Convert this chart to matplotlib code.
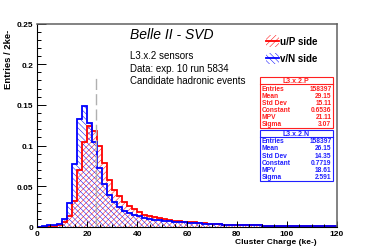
import matplotlib
matplotlib.use("Agg")
import matplotlib.pyplot as plt
import numpy as np
from matplotlib.patches import Rectangle
from matplotlib.lines import Line2D

plt.rcParams['font.family'] = ['Liberation Sans', 'DejaVu Sans']
plt.rcParams['hatch.linewidth'] = 0.35

# 2 ke- bins from 0 to 120
edges = np.arange(0, 122, 2)

# u/P side (red)
u_side = [0.0002, 0.0004, 0.0006, 0.001, 0.002, 0.006, 0.014, 0.032, 0.070, 0.104,
          0.124, 0.118, 0.100, 0.078, 0.058, 0.046, 0.038, 0.031, 0.026, 0.022,
          0.018, 0.015, 0.013, 0.012, 0.0105, 0.0095, 0.0085, 0.0078, 0.0072, 0.0066,
          0.0060, 0.0055, 0.0050, 0.0045, 0.0040, 0.0035, 0.0031, 0.0028, 0.0026, 0.0024,
          0.0022, 0.0021, 0.0020, 0.0019, 0.0018, 0.0017, 0.0016, 0.0016, 0.0015, 0.0015,
          0.0014, 0.0014, 0.0013, 0.0013, 0.0012, 0.0012, 0.0011, 0.0011, 0.0010, 0.0010]

# v/N side (blue)
v_side = [0.0005, 0.001, 0.0018, 0.0025, 0.0035, 0.010, 0.029, 0.077, 0.133, 0.149,
          0.128, 0.105, 0.072, 0.053, 0.039, 0.031, 0.025, 0.020, 0.017, 0.015,
          0.013, 0.011, 0.010, 0.0090, 0.0082, 0.0075, 0.0070, 0.0065, 0.0060, 0.0056,
          0.0052, 0.0048, 0.0044, 0.0040, 0.0037, 0.0034, 0.0031, 0.0029, 0.0027, 0.0025,
          0.0023, 0.0021, 0.0020, 0.0019, 0.0018, 0.0017, 0.0016, 0.0015, 0.0015, 0.0014,
          0.0014, 0.0013, 0.0013, 0.0012, 0.0012, 0.0011, 0.0011, 0.0010, 0.0010, 0.0010]

ref_line_x = 23.6
ref_line_top = 0.187

yticks = [0, 0.05, 0.1, 0.15, 0.2, 0.25]
yticklabels = ['0', '0.05', '0.1', '0.15', '0.2', '0.25']
xticks = [0, 20, 40, 60, 80, 100, 120]

info_lines = ['L3.x.2 sensors', 'Data: exp. 10 run 5834', 'Candidate hadronic events']

stat_names = ['Entries', 'Mean', 'Std Dev', 'Constant', 'MPV', 'Sigma']
stats_p = ['158397', '29.15', '15.11', '0.6536', '21.11', '3.07']
stats_n = ['158397', '26.15', '14.35', '0.7719', '18.61', '2.591']

RED = '#ff0000'
BLUE = '#0000ff'
HATCH_P = '//////'
HATCH_N = '\\\\\\\\\\\\'

fig = plt.figure(figsize=(3.74, 2.53), dpi=100)
ax = fig.add_axes([0.1, 0.099, 0.8, 0.804])

# hatched fills
ax.stairs(u_side, edges, fill=True, facecolor='none', edgecolor=RED,
          hatch=HATCH_P, linewidth=0)
ax.stairs(v_side, edges, fill=True, facecolor='none', edgecolor=BLUE,
          hatch=HATCH_N, linewidth=0)
# outlines
ax.stairs(u_side, edges, color=RED, linewidth=1.3)
ax.stairs(v_side, edges, color=BLUE, linewidth=1.3)

ax.plot([ref_line_x, ref_line_x], [0, ref_line_top], color='#b0b0b0',
        linewidth=1.0, dashes=(8, 3))

ax.set_xlim(0, 120)
ax.set_ylim(0, 0.25)
ax.set_xticks(xticks)
ax.set_xticks(np.arange(0, 121, 5), minor=True)
ax.set_yticks(yticks)
ax.set_yticklabels(yticklabels)
ax.set_yticks(np.arange(0, 0.2501, 0.01), minor=True)
ax.tick_params(which='both', direction='in', top=False, right=False, width=0.7,
               labelsize=6)
ax.tick_params(axis='y', which='major', length=6.5, pad=3)
ax.tick_params(axis='y', which='minor', length=3.2)
ax.tick_params(axis='x', which='major', length=4.3, pad=2)
ax.tick_params(axis='x', which='minor', length=2.2)
for lab in ax.get_xticklabels() + ax.get_yticklabels():
    lab.set_fontweight('bold')

for s in ['left', 'bottom']:
    ax.spines[s].set_linewidth(0.8)
for s in ['top', 'right']:
    ax.spines[s].set_color('#606060')
    ax.spines[s].set_linewidth(1.1)

fig.text(316.7 / 374, 1 - 243 / 253, 'Cluster Charge (ke-)', ha='right', va='center',
         fontsize=6, fontweight='bold')
fig.text(9 / 374, 1 - 30 / 253, 'Entries / 2ke-', rotation=90, ha='center', va='top',
         fontsize=6.8, fontweight='bold')

fig.text(130 / 374, 1 - 35 / 253, 'Belle II - SVD', fontsize=10, style='italic',
         ha='left', va='center')
for i, t in enumerate(info_lines):
    fig.text(130 / 374, 1 - (56 + 12.5 * i) / 253, t, fontsize=7, ha='left', va='center')

# legend
for py, col, hat, lab in [(41.7, RED, HATCH_P, 'u/P side'),
                          (59.3, BLUE, HATCH_N, 'v/N side')]:
    fig.add_artist(Rectangle((266 / 374, 1 - (py + 5.8) / 253), 12.7 / 374, 11.6 / 253,
                             transform=fig.transFigure, facecolor='none',
                             edgecolor=col, hatch=hat, linewidth=0))
    fig.add_artist(Line2D([266 / 374, 278.7 / 374], [1 - py / 253, 1 - py / 253],
                          transform=fig.transFigure, color=col, linewidth=1.3))
    fig.text(280 / 374, 1 - py / 253, lab, fontsize=7, fontweight='bold',
             ha='left', va='center')

# stat boxes
def stat_box(top, title, values, col):
    x0, x1 = 259.5, 333
    title_h = 7.3
    row_h = 7.1
    bottom = top + title_h + row_h * len(values) + 1.5
    fig.add_artist(Rectangle((x0 / 374, 1 - bottom / 253), (x1 - x0) / 374,
                             (bottom - top) / 253, transform=fig.transFigure,
                             facecolor='white', edgecolor=col, linewidth=0.8))
    fig.add_artist(Line2D([x0 / 374, x1 / 374],
                          [1 - (top + title_h) / 253, 1 - (top + title_h) / 253],
                          transform=fig.transFigure, color=col, linewidth=0.8))
    fig.text((x0 + x1) / 2 / 374, 1 - (top + title_h / 2 + 0.3) / 253, title,
             fontsize=5, fontweight='bold', color=col, ha='center', va='center')
    for i, (n, v) in enumerate(zip(stat_names, values)):
        yy = 1 - (top + title_h + row_h * (i + 0.5) + 0.5) / 253
        fig.text((x0 + 2) / 374, yy, n, fontsize=4.8, fontweight='bold', color=col,
                 ha='left', va='center')
        fig.text((x1 - 1.5) / 374, yy, v, fontsize=4.8, fontweight='bold', color=col,
                 ha='right', va='center')

stat_box(78, 'L3.x.2.P', stats_p, '#ff2020')
stat_box(130.5, 'L3.x.2.N', stats_n, '#2020ff')

fig.savefig('out.png', dpi=100)
